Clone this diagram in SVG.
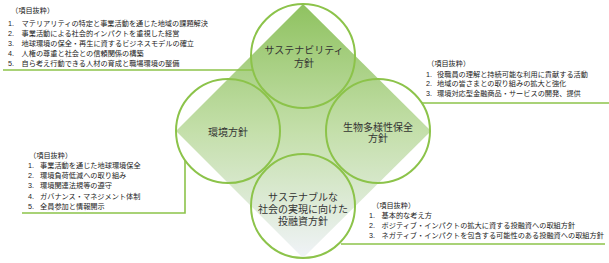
<svg xmlns="http://www.w3.org/2000/svg" width="609" height="263" viewBox="0 0 609 263">
<defs>
<linearGradient id="dg" x1="0" y1="0" x2="0" y2="1">
<stop offset="0" stop-color="#8fc260"/>
<stop offset="0.5" stop-color="#c4dfaa"/>
<stop offset="1" stop-color="#f0f3f8"/>
</linearGradient>
<style>
.c{fill:none;stroke:#8cc34a;stroke-width:2}
.ln{fill:none;stroke:#8cc34a;stroke-width:1.6}
.lb{font-family:"Liberation Sans","Noto Sans CJK JP",sans-serif;font-size:10px;fill:#333;text-anchor:middle}
.t{font-family:"Liberation Sans","Noto Sans CJK JP",sans-serif;font-size:7.2px;fill:#222}
</style>
</defs>
<rect width="609" height="263" fill="#fff"/>
<polygon id="diamond" points="303,4 431,131 303,258 176,131" fill="url(#dg)"/>
<g id="connectors">
<polyline class="ln" points="3,70 253,70"/>
<polyline class="ln" points="422,103 609,103"/>
<polyline class="ln" points="22,213 185,213 185,160"/>
<polyline class="ln" points="341,244 605,244"/>
</g>
<g id="node-sustainability">
<circle class="c" cx="303" cy="56" r="52"/>
<text class="lb" x="304" y="54">サステナビリティ</text>
<text class="lb" x="304" y="66.5">方針</text>
</g>
<g id="node-environment">
<circle class="c" cx="228" cy="131" r="52"/>
<text class="lb" x="228" y="136">環境方針</text>
</g>
<g id="node-biodiversity">
<circle class="c" cx="378" cy="131" r="52"/>
<text class="lb" x="378" y="130.5">生物多様性保全</text>
<text class="lb" x="378" y="142">方針</text>
</g>
<g id="node-investment">
<circle class="c" cx="303" cy="206" r="52"/>
<text class="lb" x="303" y="200.5">サステナブルな</text>
<text class="lb" x="303" y="212.5">社会の実現に向けた</text>
<text class="lb" x="303" y="224.5">投融資方針</text>
</g>
<g id="list-sustainability" class="t">
<text x="11" y="13">（項目抜粋）</text>
<text y="25.5"><tspan x="8">1.</tspan><tspan x="21.5">マテリアリティの特定と事業活動を通じた地域の課題解決</tspan></text>
<text y="35.5"><tspan x="8">2.</tspan><tspan x="21.5">事業活動による社会的インパクトを重視した経営</tspan></text>
<text y="45.5"><tspan x="8">3.</tspan><tspan x="21.5">地球環境の保全・再生に資するビジネスモデルの確立</tspan></text>
<text y="55.5"><tspan x="8">4.</tspan><tspan x="21.5">人権の尊重と社会との信頼関係の構築</tspan></text>
<text y="65.5"><tspan x="8">5.</tspan><tspan x="21.5">自ら考え行動できる人材の育成と職場環境の整備</tspan></text>
</g>
<g id="list-biodiversity" class="t">
<text x="427" y="66">（項目抜粋）</text>
<text y="76.5"><tspan x="426">1.</tspan><tspan x="437">役職員の理解と持続可能な利用に貢献する活動</tspan></text>
<text y="86"><tspan x="426">2.</tspan><tspan x="437">地域の皆さまとの取り組みの拡大と強化</tspan></text>
<text y="95.5"><tspan x="426">3.</tspan><tspan x="437">環境対応型金融商品・サービスの開発、提供</tspan></text>
</g>
<g id="list-environment" class="t">
<text x="29" y="158">（項目抜粋）</text>
<text y="168"><tspan x="28">1.</tspan><tspan x="40">事業活動を通じた地球環境保全</tspan></text>
<text y="178"><tspan x="28">2.</tspan><tspan x="40">環境負荷低減への取り組み</tspan></text>
<text y="188"><tspan x="28">3.</tspan><tspan x="40">環境関連法規等の遵守</tspan></text>
<text y="199"><tspan x="28">4.</tspan><tspan x="40">ガバナンス・マネジメント体制</tspan></text>
<text y="209"><tspan x="28">5.</tspan><tspan x="40">全員参加と情報開示</tspan></text>
</g>
<g id="list-investment" class="t">
<text x="372" y="208">（項目抜粋）</text>
<text y="218"><tspan x="369">1.</tspan><tspan x="381.5">基本的な考え方</tspan></text>
<text y="228"><tspan x="369">2.</tspan><tspan x="381.5">ポジティブ・インパクトの拡大に資する投融資への取組方針</tspan></text>
<text y="238"><tspan x="369">3.</tspan><tspan x="381.5">ネガティブ・インパクトを包含する可能性のある投融資への取組方針</tspan></text>
</g>
</svg>
